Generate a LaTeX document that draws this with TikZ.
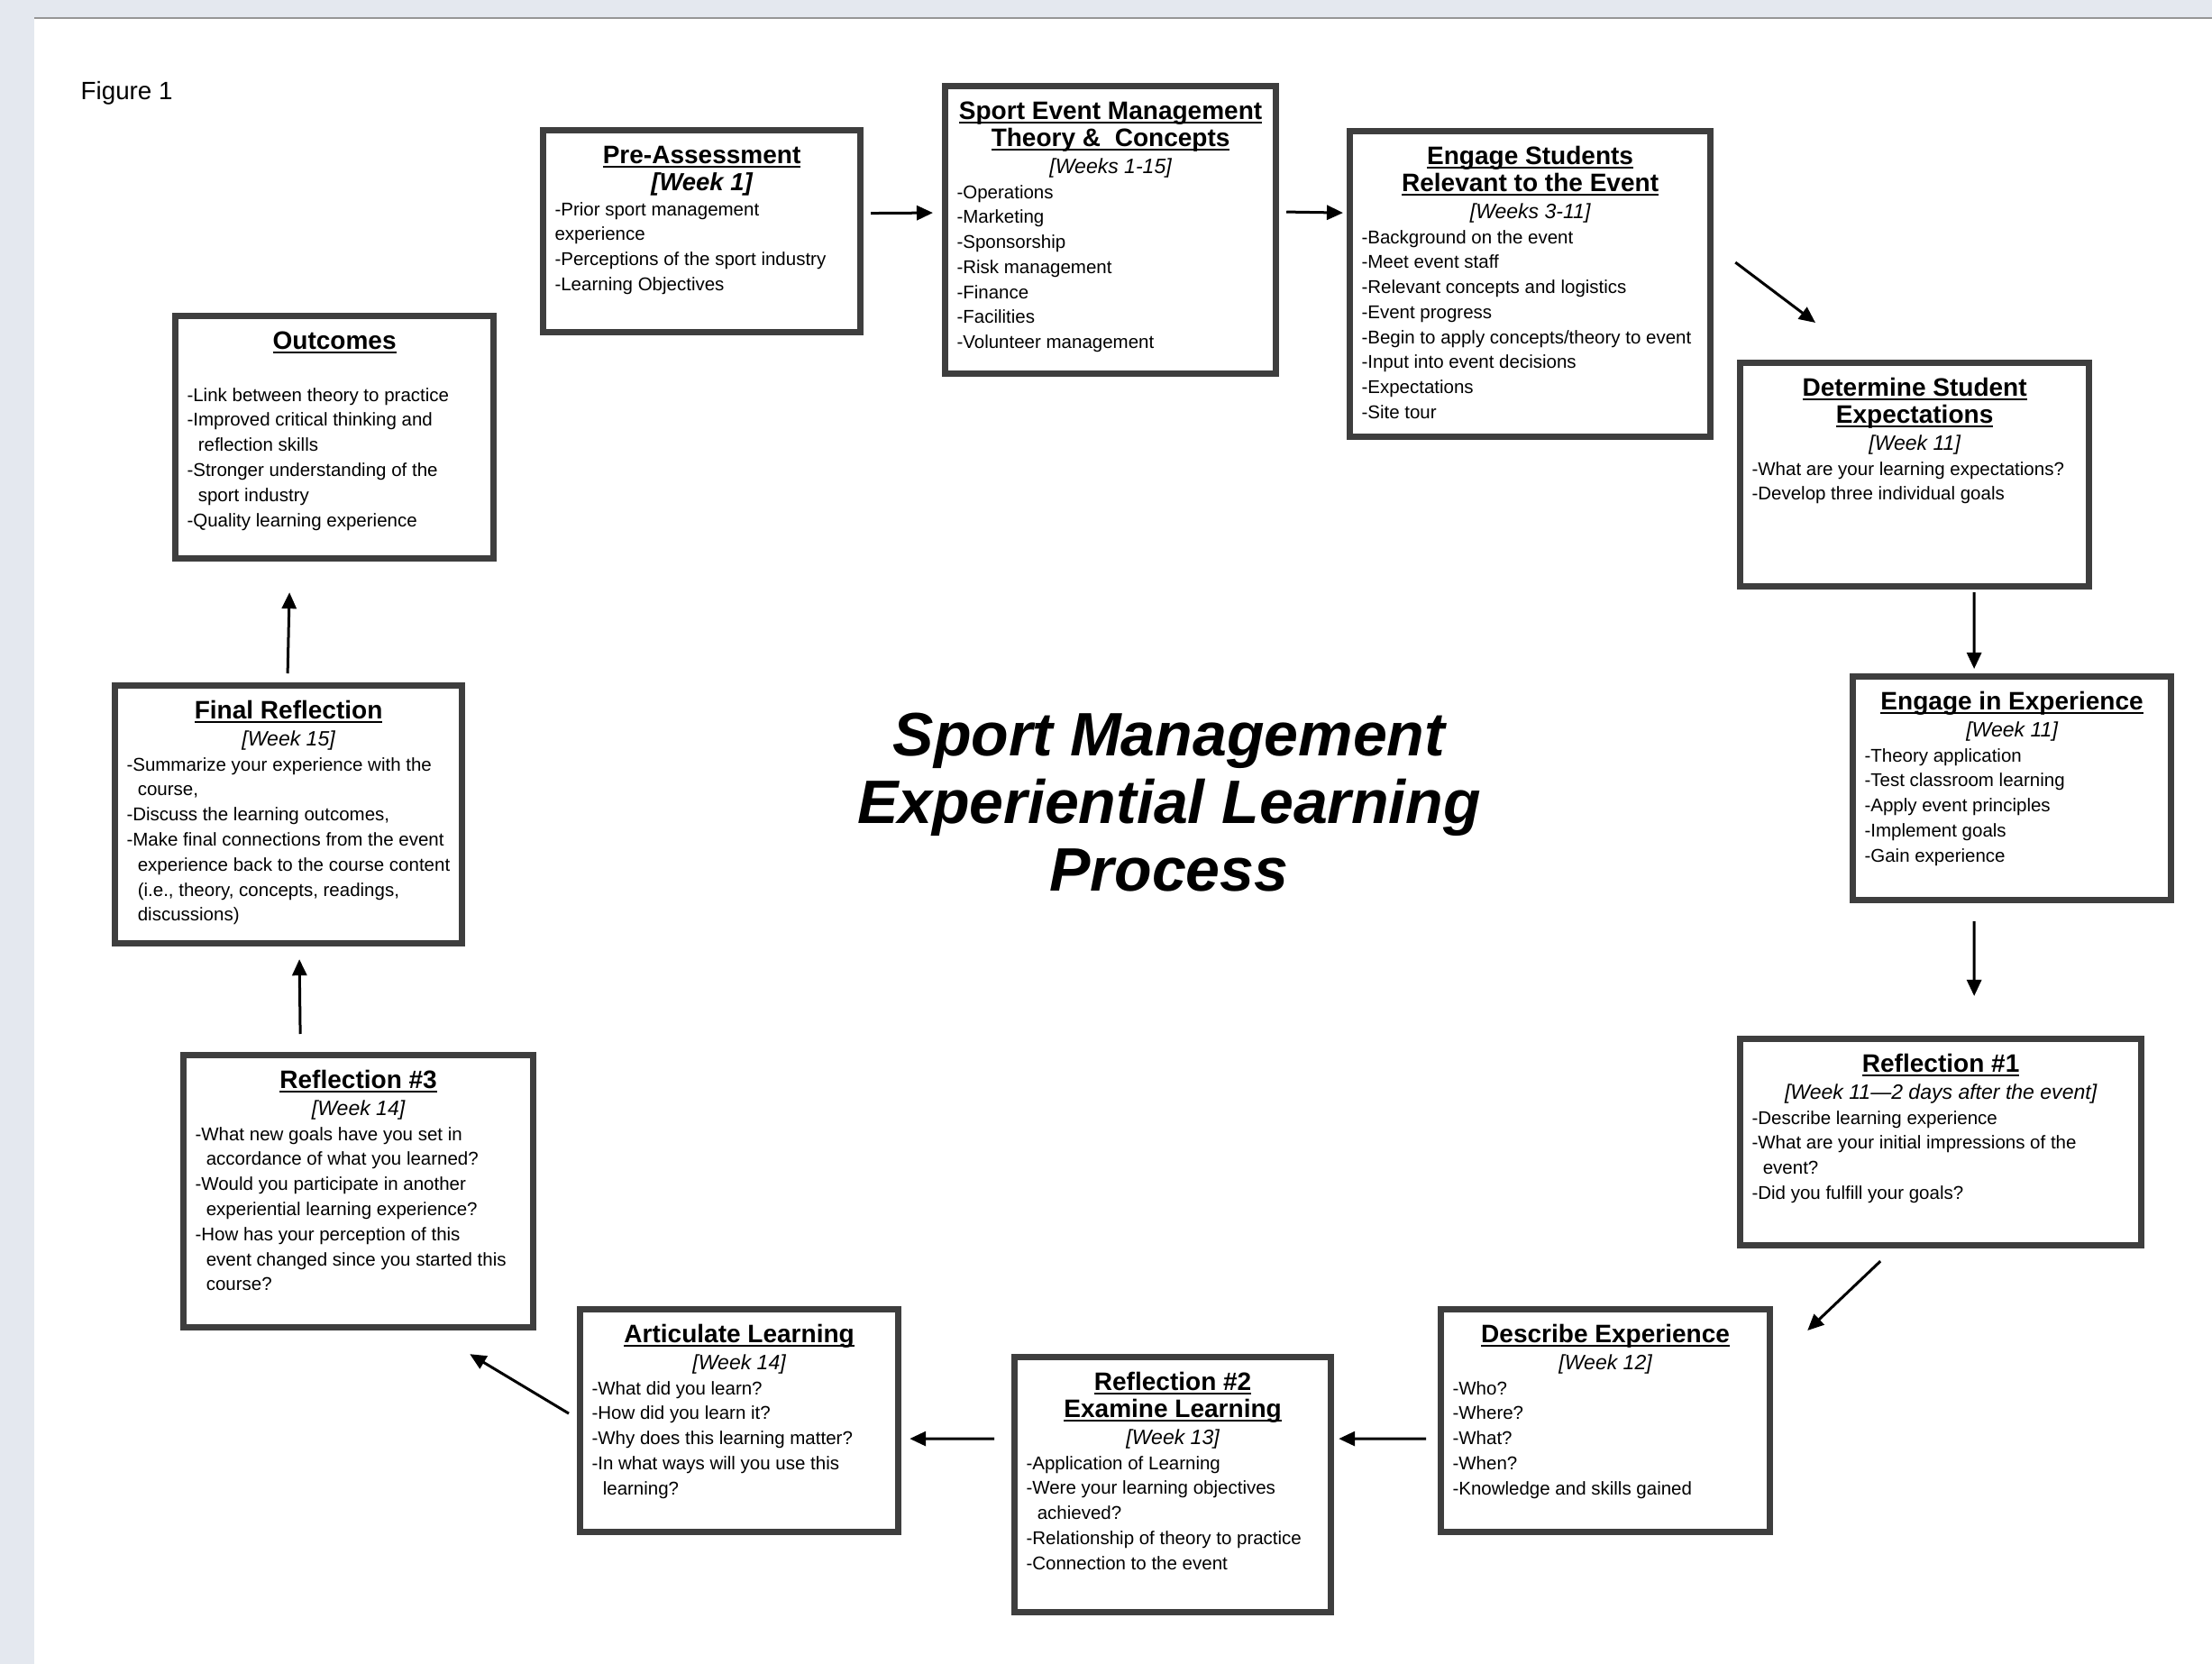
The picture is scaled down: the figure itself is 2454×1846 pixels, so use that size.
\documentclass[tikz,border=0pt]{standalone}
\usepackage{fontspec}
\setmainfont{Liberation Sans}
\usepackage{xcolor}
\definecolor{pagegrey}{RGB}{228,232,239}
\definecolor{rulegrey}{RGB}{150,150,150}
\definecolor{boxgrey}{RGB}{62,62,62}
\usepackage{tikz}
\usetikzlibrary{arrows.meta, positioning}

% text inside the stage boxes
\newcommand{\headfont}{\fontsize{7.97pt}{8.5pt}\selectfont\bfseries}
\newcommand{\weekfont}{\fontsize{6.55pt}{8.5pt}\selectfont\itshape}
\newcommand{\itemfont}{\fontsize{5.83pt}{7.9pt}\selectfont}
\newcommand{\headul}[1]{\setbox0\hbox{#1}\rlap{\rule[-1.3pt]{\wd0}{0.55pt}}\box0}
\newcommand{\boxhead}[1]{{\headfont\makebox[\linewidth]{\headul{#1}}\par}}
\newcommand{\boxweek}[1]{{\weekfont\makebox[\linewidth]{#1}\par}}
\newcommand{\boxitem}[1]{{\itemfont\makebox[\linewidth][l]{#1}\par}}
\newcommand{\boxwrap}[1]{\boxitem{\hspace*{.6em}#1}}

\begin{document}
\begin{tikzpicture}[
	x=0.01cm, y=-0.01cm,
	stage/.style={rectangle, draw=boxgrey, line width=0.07cm, fill=white, inner sep=0.13cm, text height=0.24cm, align=flush left, anchor=north west},
	arr/.style={-{Triangle[length=0.18cm, width=0.16cm]}, line width=0.03cm, draw=black}
	]
	% page
	\useasboundingbox (0,0) rectangle (2454,1846);
	\fill[pagegrey] (0,0) rectangle (2454,1846);
	\fill[white] (38,20) rectangle (2454,1846);
	\draw[rulegrey, line width=0.02cm] (38,20) -- (2454,20);

	\node[anchor=west, inner sep=0, font=\fontsize{7.9pt}{9pt}\selectfont] (fig) at (89,103) {Figure 1};
	\node[align=center, font=\fontsize{19.35pt}{21.3pt}\selectfont\bfseries\itshape] (title) at (1297,890) {Sport Management\\Experiential Learning\\Process};

	% stages, clockwise from the top
	\node[stage, text width=3.26cm, text depth=1.74cm] (pre) at (599,141) {%
		\boxhead{Pre-Assessment}
		\boxweek{\bfseries\fontsize{7.8pt}{8.5pt}\selectfont [Week 1]}
		\boxitem{-Prior sport management}
		\boxitem{experience}
		\boxitem{-Perceptions of the sport industry}
		\boxitem{-Learning Objectives}};
	\node[stage, text width=3.41cm, text depth=2.69cm] (sem) at (1045,92) {%
		\boxhead{Sport Event Management}
		\boxhead{Theory \&\ \ Concepts}
		\boxweek{[Weeks 1-15]}
		\boxitem{-Operations}
		\boxitem{-Marketing}
		\boxitem{-Sponsorship}
		\boxitem{-Risk management}
		\boxitem{-Finance}
		\boxitem{-Facilities}
		\boxitem{-Volunteer management}};
	\node[stage, text width=3.74cm, text depth=2.89cm] (students) at (1494,142) {%
		\boxhead{Engage Students}
		\boxhead{Relevant to the Event}
		\boxweek{[Weeks 3-11]}
		\boxitem{-Background on the event}
		\boxitem{-Meet event staff}
		\boxitem{-Relevant concepts and logistics}
		\boxitem{-Event progress}
		\boxitem{-Begin to apply concepts/theory to event}
		\boxitem{-Input into event decisions}
		\boxitem{-Expectations}
		\boxitem{-Site tour}};
	\node[stage, text width=3.61cm, text depth=1.98cm] (expect) at (1927,399) {%
		\boxhead{Determine Student}
		\boxhead{Expectations}
		\boxweek{[Week 11]}
		\boxitem{-What are your learning expectations?}
		\boxitem{-Develop three individual goals}};
	\node[stage, text width=3.27cm, text depth=1.98cm] (engage) at (2052,747) {%
		\boxhead{Engage in Experience}
		\boxweek{[Week 11]}
		\boxitem{-Theory application}
		\boxitem{-Test classroom learning}
		\boxitem{-Apply event principles}
		\boxitem{-Implement goals}
		\boxitem{-Gain experience}};
	\node[stage, text width=4.19cm, text depth=1.79cm] (refl1) at (1927,1149) {%
		\boxhead{Reflection \#1}
		\boxweek{[Week 11\textemdash 2 days after the event]}
		\boxitem{-Describe learning experience}
		\boxitem{-What are your initial impressions of the}
		\boxwrap{event?}
		\boxitem{-Did you fulfill your goals?}};
	\node[stage, text width=3.39cm, text depth=1.97cm] (describe) at (1595,1449) {%
		\boxhead{Describe Experience}
		\boxweek{[Week 12]}
		\boxitem{-Who?}
		\boxitem{-Where?}
		\boxitem{-What?}
		\boxitem{-When?}
		\boxitem{-Knowledge and skills gained}};
	\node[stage, text width=3.25cm, text depth=2.33cm] (refl2) at (1122,1502) {%
		\boxhead{Reflection \#2}
		\boxhead{Examine Learning}
		\boxweek{[Week 13]}
		\boxitem{-Application of Learning}
		\boxitem{-Were your learning objectives}
		\boxwrap{achieved?}
		\boxitem{-Relationship of theory to practice}
		\boxitem{-Connection to the event}};
	\node[stage, text width=3.27cm, text depth=1.97cm] (articulate) at (640,1449) {%
		\boxhead{Articulate Learning}
		\boxweek{[Week 14]}
		\boxitem{-What did you learn?}
		\boxitem{-How did you learn it?}
		\boxitem{-Why does this learning matter?}
		\boxitem{-In what ways will you use this}
		\boxwrap{learning?}};
	\node[stage, text width=3.62cm, text depth=2.52cm] (refl3) at (200,1167) {%
		\boxhead{Reflection \#3}
		\boxweek{[Week 14]}
		\boxitem{-What new goals have you set in}
		\boxwrap{accordance of what you learned?}
		\boxitem{-Would you participate in another}
		\boxwrap{experiential learning experience?}
		\boxitem{-How has your perception of this}
		\boxwrap{event changed since you started this}
		\boxwrap{course?}};
	\node[stage, text width=3.59cm, text depth=2.36cm] (final) at (124,757) {%
		\boxhead{Final Reflection}
		\boxweek{[Week 15]}
		\boxitem{-Summarize your experience with the}
		\boxwrap{course,}
		\boxitem{-Discuss the learning outcomes,}
		\boxitem{-Make final connections from the event}
		\boxwrap{experience back to the course content}
		\boxwrap{(i.e., theory, concepts, readings,}
		\boxwrap{discussions)}};
	\node[stage, text width=3.27cm, text depth=2.19cm] (outcomes) at (191,347) {%
		\boxhead{Outcomes}
		\boxweek{\mbox{}}
		\boxitem{-Link between theory to practice}
		\boxitem{-Improved critical thinking and}
		\boxwrap{reflection skills}
		\boxitem{-Stronger understanding of the}
		\boxwrap{sport industry}
		\boxitem{-Quality learning experience}};

	% arrows between the stages
	\draw[arr] ([shift={(8,-20)}]pre.east) -- ([shift={(-10,-19)}]sem.west);
	\draw[arr] ([shift={(8,-20)}]sem.east) -- ([shift={(-4,-79)}]students.west);
	\draw[arr] ([shift={(24,-24)}]students.east) -- ([shift={(87,-41)}]expect.north west);
	\draw[arr] ([shift={(66,3)}]expect.south) -- ([shift={(-42,-5)}]engage.north);
	\draw[arr] ([shift={(-42,20)}]engage.south) -- ([shift={(37,-44)}]refl1.north);
	\draw[arr] ([shift={(-67,14)}]refl1.south) -- ([shift={(38,27)}]describe.north east);
	\draw[arr] ([shift={(-13,20)}]describe.west) -- ([shift={(5,-51)}]refl2.east);
	\draw[arr] ([shift={(-19,-51)}]refl2.west) -- ([shift={(9,20)}]articulate.east);
	\draw[arr] ([shift={(-9,-8)}]articulate.west) -- ([shift={(-74,26)}]refl3.south east);
	\draw[arr] ([shift={(-64.5,-20)}]refl3.north) -- ([shift={(12,14)}]final.south);
	\draw[arr] ([shift={(-1,-10)}]final.north) -- ([shift={(-50,34)}]outcomes.south);
\end{tikzpicture}
\end{document}
